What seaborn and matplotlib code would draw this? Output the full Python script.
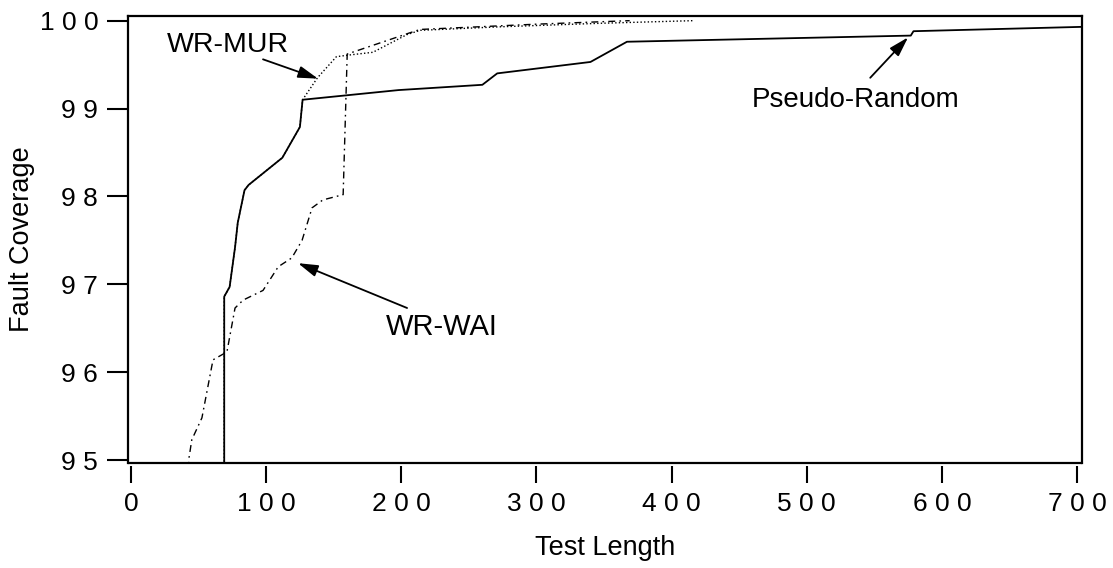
# Fault coverage vs test length, three generators
import matplotlib
matplotlib.use('Agg')
import numpy as np
import pandas as pd
import matplotlib.pyplot as plt
import seaborn as sns

# Pseudo-Random (solid line)
pr_len = [69, 69, 73, 77, 79, 84, 87, 112, 125, 127, 198, 260, 271, 340, 367, 577, 579, 705]
pr_cov = [94.9, 96.86, 96.97, 97.42, 97.7, 98.07, 98.13, 98.44, 98.79, 99.1, 99.21, 99.27,
          99.4, 99.53, 99.76, 99.83, 99.88, 99.93]

# WR-MUR (dotted line)
mur_len = [69, 69, 73, 77, 79, 84, 87, 112, 125, 127, 138, 152, 162, 179, 204, 214, 273, 347, 416]
mur_cov = [94.9, 96.86, 96.97, 97.42, 97.7, 98.07, 98.13, 98.44, 98.79, 99.1, 99.35, 99.59,
           99.61, 99.64, 99.84, 99.89, 99.93, 99.97, 100.0]

# WR-WAI (dash-dot line)
wai_len = [42.5, 43, 45, 52.5, 60.7, 71, 77, 83, 97.7, 109, 119, 126.6, 134, 142, 157, 160,
           206, 214, 300, 369]
wai_cov = [94.9, 95.03, 95.23, 95.48, 96.14, 96.23, 96.73, 96.82, 96.93, 97.2, 97.3, 97.5,
           97.87, 97.96, 98.02, 99.62, 99.86, 99.9, 99.96, 100.0]

x_ticks = [0, 100, 200, 300, 400, 500, 600, 700]
y_ticks = [95, 96, 97, 98, 99, 100]

sns.set_style('ticks')
plt.rcParams['font.family'] = ['Liberation Sans', 'DejaVu Sans']
plt.rcParams['text.color'] = 'black'
plt.rcParams['axes.labelcolor'] = 'black'
plt.rcParams['xtick.color'] = 'black'
plt.rcParams['ytick.color'] = 'black'

fig = plt.figure(figsize=(11.13, 5.68), dpi=100)
ax = fig.add_axes([128 / 1113, 1 - 463 / 568, 954 / 1113, 447 / 568])

pr_df = pd.DataFrame({'len': pr_len, 'cov': pr_cov})
mur_df = pd.DataFrame({'len': mur_len, 'cov': mur_cov})
wai_df = pd.DataFrame({'len': wai_len, 'cov': wai_cov})

sns.lineplot(data=wai_df, x='len', y='cov', ax=ax, color='black', lw=1.0,
             linestyle=(0, (5, 3, 1.2, 3)), sort=False, estimator=None)
sns.lineplot(data=mur_df, x='len', y='cov', ax=ax, color='black', lw=1.0,
             linestyle=(0, (1, 1.6)), sort=False, estimator=None)
sns.lineplot(data=pr_df, x='len', y='cov', ax=ax, color='black', lw=1.3,
             sort=False, estimator=None)

ax.set_xlim(-2.2, 703.7)
ax.set_ylim(94.966, 100.053)
ax.set_xticks(x_ticks)
ax.set_yticks(y_ticks)
ax.set_xticklabels([' '.join(str(v)) for v in x_ticks])
ax.set_yticklabels([' '.join(str(v)) for v in y_ticks])

for s in ax.spines.values():
    s.set_linewidth(1.6)
    s.set_color('black')
# x ticks hang a little below the frame
ax.spines['bottom'].set_position(('outward', 2.5))
ax.spines['bottom'].set_visible(False)
ax.axhline(94.966, color='black', lw=1.6, clip_on=False)

ax.tick_params(axis='x', direction='out', length=12.2, width=1.5, pad=6,
               labelsize=19)
ax.tick_params(axis='y', direction='out', length=15, width=1.5, pad=6.5,
               labelsize=19)

ax.set_xlabel('Test Length', fontsize=19.5, va='center')
ax.set_ylabel('Fault Coverage', fontsize=19.5, va='center')
ax.xaxis.set_label_coords(0.5, -0.19)
ax.yaxis.set_label_coords(-0.111, 0.5)

arrow = dict(arrowstyle='-|>,head_length=1.0,head_width=0.3',
             mutation_scale=12, color='black', lw=1.3, shrinkA=0, shrinkB=0)

# labels with arrows
ax.text(71.4, 99.644, 'WR-MUR', fontsize=20.5, ha='center', va='baseline')
ax.annotate('', xy=(138.4, 99.34), xytext=(97.7, 99.56), arrowprops=arrow)

ax.text(230.2, 96.42, 'WR-WAI', fontsize=21, ha='center', va='baseline')
ax.annotate('', xy=(123.6, 97.24), xytext=(204.3, 96.73), arrowprops=arrow)

ax.text(535.9, 99.018, 'Pseudo-Random', fontsize=20, ha='center', va='baseline')
ax.annotate('', xy=(575, 99.81), xytext=(547, 99.35), arrowprops=arrow)

fig.savefig('out.png', dpi=100)
